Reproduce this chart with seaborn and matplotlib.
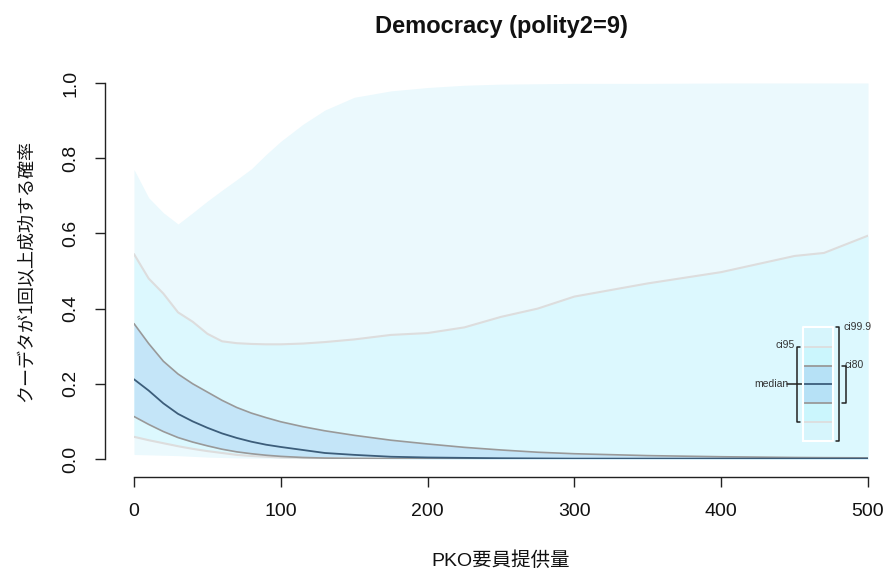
import matplotlib
matplotlib.use("Agg")
import matplotlib.pyplot as plt
import seaborn as sns
import numpy as np
import pandas as pd

# ---- data ----
pko = [0, 10, 20, 30, 40, 50, 60, 70, 80, 90, 100, 115, 130, 150, 175, 200,
       225, 250, 275, 300, 350, 400, 450, 470, 500]
ci999_upper = [0.770, 0.695, 0.655, 0.625, 0.655, 0.686, 0.715, 0.743, 0.772, 0.810,
               0.845, 0.890, 0.928, 0.962, 0.979, 0.988, 0.994, 0.997, 0.998,
               0.999, 0.999, 1.000, 1.000, 1.000, 1.000]
ci999_lower = [0.012, 0.011, 0.010, 0.009, 0.007, 0.005, 0.004, 0.003, 0.0025, 0.002,
               0.0015, 0.001, 0.001, 0.0008, 0.0005, 0.0004, 0.0003, 0.0002, 0.0002,
               0.0001, 0.0001, 0.0001, 0.0001, 0.0001, 0.0001]
ci95_upper = [0.545, 0.480, 0.440, 0.390, 0.365, 0.333, 0.313, 0.308, 0.306, 0.305,
              0.305, 0.307, 0.311, 0.318, 0.330, 0.335, 0.350, 0.378, 0.400,
              0.432, 0.467, 0.497, 0.540, 0.548, 0.594]
ci95_lower = [0.059, 0.050, 0.042, 0.034, 0.027, 0.021, 0.016, 0.011, 0.008, 0.006,
              0.004, 0.003, 0.002, 0.0015, 0.001, 0.0008, 0.0007, 0.0006, 0.0005,
              0.0005, 0.0004, 0.0004, 0.0003, 0.0003, 0.0003]
ci80_upper = [0.360, 0.307, 0.260, 0.226, 0.200, 0.178, 0.156, 0.137, 0.122, 0.110,
              0.099, 0.086, 0.075, 0.063, 0.050, 0.040, 0.031, 0.024, 0.018,
              0.014, 0.009, 0.006, 0.004, 0.0035, 0.003]
median = [0.212, 0.182, 0.148, 0.120, 0.100, 0.083, 0.068, 0.056, 0.046, 0.038,
          0.032, 0.024, 0.016, 0.011, 0.006, 0.004, 0.003, 0.002, 0.0015,
          0.001, 0.001, 0.001, 0.001, 0.001, 0.001]
ci80_lower = [0.113, 0.092, 0.073, 0.057, 0.045, 0.035, 0.026, 0.019, 0.014, 0.010,
              0.007, 0.004, 0.0025, 0.0015, 0.001, 0.0005, 0.0005, 0.0004, 0.0004,
              0.0003, 0.0003, 0.0003, 0.0003, 0.0003, 0.0003]

x_ticks = [0, 100, 200, 300, 400, 500]
y_ticks = [0.0, 0.2, 0.4, 0.6, 0.8, 1.0]
y_tick_labels = ["0.0", "0.2", "0.4", "0.6", "0.8", "1.0"]

title = "Democracy (polity2=9)"
x_label = "PKO要員提供量"
y_label = "クーデタが1回以上成功する確率"

df = pd.DataFrame({
    "pko": pko, "u999": ci999_upper, "l999": ci999_lower,
    "u95": ci95_upper, "l95": ci95_lower,
    "u80": ci80_upper, "l80": ci80_lower, "med": median,
})

# ---- style ----
sns.set_theme(style="white")
plt.rcParams["font.family"] = ["Liberation Sans", "Noto Sans CJK JP"]

c999 = "#ebf9fd"
c95 = "#dcf8fe"
c80 = "#c4e5f8"
edge95 = "#dddddd"
edge80 = "#999999"
cmed = "#3c5d7a"

fig = plt.figure(figsize=(8.87, 5.72), dpi=100)
ax = fig.add_axes([134 / 887, 1 - 459 / 572, (868 - 134) / 887, (459 - 83) / 572])

ax.fill_between(df["pko"], df["l999"], df["u999"], color=c999, lw=0, zorder=1)
ax.fill_between(df["pko"], df["l95"], df["u95"], color=c95, lw=0, zorder=2)
ax.fill_between(df["pko"], df["l80"], df["u80"], color=c80, lw=0, zorder=3)

sns.lineplot(data=df, x="pko", y="u95", ax=ax, color=edge95, lw=1.5, zorder=4)
sns.lineplot(data=df, x="pko", y="l95", ax=ax, color=edge95, lw=1.5, zorder=4)
sns.lineplot(data=df, x="pko", y="u80", ax=ax, color=edge80, lw=1.2, zorder=5)
sns.lineplot(data=df, x="pko", y="l80", ax=ax, color=edge80, lw=1.2, zorder=5)
sns.lineplot(data=df, x="pko", y="med", ax=ax, color=cmed, lw=1.3, zorder=6)

# despine first (setting spine position resets tick properties)
sns.despine(ax=ax, offset={"left": 21, "bottom": 13})
for s in ("left", "bottom"):
    ax.spines[s].set_color("#222222")
    ax.spines[s].set_linewidth(1.0)
ax.grid(False)

ax.set_xlim(0, 500)
ax.set_ylim(0, 1)
ax.set_xticks(x_ticks)
ax.set_xticklabels([str(t) for t in x_ticks], fontsize=14)
ax.set_yticks(y_ticks)
ax.set_yticklabels(y_tick_labels, fontsize=14, rotation=90, va="center")
ax.tick_params(axis="both", direction="out", length=7, width=1, color="#222222",
               left=True, bottom=True, labelcolor="#111111")
ax.tick_params(axis="x", pad=12)
ax.tick_params(axis="y", pad=11.5)
ax.set_xlabel(x_label, fontsize=14, labelpad=22, color="#111111")
ax.set_ylabel(y_label, fontsize=13, labelpad=19, color="#111111")
ax.set_title(title, fontsize=17, fontweight="bold", pad=36, color="#111111")

# ---- custom legend box (data coordinates) ----
bx0, bx1 = 455.5, 476.0
ly = [0.048, 0.098, 0.148, 0.200, 0.248, 0.299, 0.351]
seg_cols = ["#d6f5fc", "#cbf6fd", "#b6e1f6", "#b6e1f6", "#cbf6fd", "#d6f5fc"]
for i, col in enumerate(seg_cols):
    ax.fill_between([bx0, bx1], ly[i], ly[i + 1], color=col, lw=0, zorder=7)
ax.plot([bx0, bx1, bx1, bx0, bx0], [ly[0], ly[0], ly[-1], ly[-1], ly[0]],
        color="white", lw=1.5, zorder=9)
ax.plot([bx0, bx1], [ly[1], ly[1]], color=edge95, lw=1.3, zorder=8)
ax.plot([bx0, bx1], [ly[5], ly[5]], color=edge95, lw=1.3, zorder=8)
ax.plot([bx0, bx1], [ly[2], ly[2]], color=edge80, lw=1.3, zorder=8)
ax.plot([bx0, bx1], [ly[4], ly[4]], color=edge80, lw=1.3, zorder=8)
ax.plot([bx0, bx1], [ly[3], ly[3]], color=cmed, lw=1.3, zorder=8)

bk = "#222222"
tc = "#333333"
# ci95 bracket (left)
ax.plot([453.5, 451.3, 451.3, 453.5], [ly[5], ly[5], ly[1], ly[1]], color=bk, lw=1.1, zorder=8)
ax.text(450.0, ly[5] + 0.003, "ci95", fontsize=7.5, ha="right", va="center", color=tc)
# median connector
ax.plot([445.0, bx0], [ly[3], ly[3]], color=bk, lw=1.1, zorder=8)
ax.text(446.0, ly[3], "median", fontsize=7.5, ha="right", va="center", color=tc)
# ci99.9 bracket (right)
ax.plot([478.0, 480.5, 480.5, 478.0], [ly[6], ly[6], ly[0], ly[0]], color=bk, lw=1.1, zorder=8)
ax.text(483.5, ly[6], "ci99.9", fontsize=7.5, ha="left", va="center", color=tc)
# ci80 bracket (right)
ax.plot([482.5, 484.8, 484.8, 482.5], [ly[4], ly[4], ly[2], ly[2]], color=bk, lw=1.1, zorder=8)
ax.text(484.0, ly[4] + 0.003, "ci80", fontsize=7.5, ha="left", va="center", color=tc)

fig.savefig("out.png", dpi=100)
